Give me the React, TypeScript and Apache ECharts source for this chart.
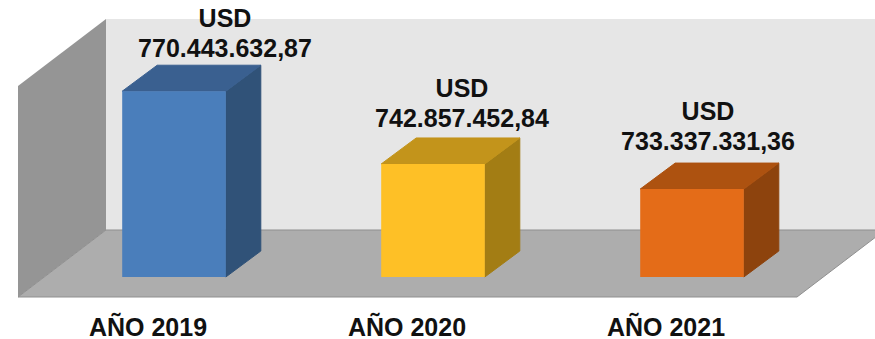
import React, { useEffect, useRef } from "react";
import * as echarts from "echarts";

const categories = ["AÑO 2019", "AÑO 2020", "AÑO 2021"];
const amounts = [770443632.87, 742857452.84, 733337331.36];
const frontColors = ["#4a7ebb", "#fec026", "#e46c18"];
const topColors = ["#3a6090", "#c3941b", "#ad5210"];
const sideColors = ["#305278", "#a37d14", "#8d430d"];

// Hand-placed value captions, relative to each bar's centre and front top edge.
const captionShiftX = [51, 29, 16];
const captionShiftY = [-58, -60.5, -63];

const AXIS_MIN = 700000000;
const AXIS_MAX = 780000000;
const DEPTH_X = 35;
const DEPTH_Y = 26;
const FONT = "bold 25px 'Liberation Sans', Arial, sans-serif";

const formatAmount = (v: number) =>
  v.toLocaleString("de-DE", { minimumFractionDigits: 2, maximumFractionDigits: 2 });

function renderBox(params: any, api: any) {
  const i = params.dataIndex;
  const value = api.value(1);
  const top = api.coord([i, value]);
  const base = api.coord([i, AXIS_MIN]);
  const w = api.size([1, 0])[0] * 0.4;
  const l = top[0] - w / 2;
  const r = top[0] + w / 2;
  const edge = { lineWidth: 1, lineJoin: "round" };
  return {
    type: "group",
    children: [
      {
        type: "polygon",
        shape: {
          points: [[r, top[1]], [r + DEPTH_X, top[1] - DEPTH_Y], [r + DEPTH_X, base[1] - DEPTH_Y], [r, base[1]]],
        },
        style: { fill: sideColors[i], stroke: sideColors[i], ...edge },
      },
      {
        type: "polygon",
        shape: {
          points: [[l, top[1]], [l + DEPTH_X, top[1] - DEPTH_Y], [r + DEPTH_X, top[1] - DEPTH_Y], [r, top[1]]],
        },
        style: { fill: topColors[i], stroke: topColors[i], ...edge },
      },
      {
        type: "rect",
        shape: { x: l, y: top[1], width: w, height: base[1] - top[1] },
        style: { fill: frontColors[i] },
      },
      {
        type: "text",
        x: top[0] + captionShiftX[i],
        y: top[1] + captionShiftY[i],
        style: {
          text: "USD\n" + formatAmount(value),
          font: FONT,
          fill: "#111111",
          align: "center",
          verticalAlign: "middle",
          lineHeight: 30,
        },
      },
    ],
  };
}

export default function App() {
  const ref = useRef<HTMLDivElement>(null);

  useEffect(() => {
    document.body.style.margin = "0";
    const chart = echarts.init(ref.current!, null, { renderer: "svg" });
    chart.setOption({
      animation: false,
      backgroundColor: "#ffffff",
      grid: { left: 44.5, right: 53.5, top: 66, bottom: 62 },
      xAxis: {
        type: "category",
        data: categories,
        axisLine: { show: false },
        axisTick: { show: false },
        axisLabel: {
          color: "#111111",
          fontFamily: "'Liberation Sans', Arial, sans-serif",
          fontWeight: "bold",
          fontSize: 25,
          margin: 37,
          padding: [0, 52, 0, 0],
        },
      },
      yAxis: { type: "value", min: AXIS_MIN, max: AXIS_MAX, show: false },
      // The room behind the boxes: back wall, left wall and floor.
      graphic: [
        {
          type: "rect",
          shape: { x: 106, y: 19, width: 769, height: 211 },
          style: { fill: "#e6e6e6" },
          silent: true,
        },
        {
          type: "polygon",
          shape: { points: [[18, 86], [106, 19], [106, 230], [18, 297]] },
          style: { fill: "#959595" },
          silent: true,
        },
        {
          type: "polygon",
          shape: { points: [[106, 230], [885, 230], [797, 297], [18, 297]] },
          style: { fill: "#adadad", stroke: "#8f8f8f", lineWidth: 1 },
          silent: true,
        },
      ],
      series: [
        {
          type: "custom",
          renderItem: renderBox,
          clip: false,
          data: amounts.map((v, i) => [i, v]),
          encode: { x: 0, y: 1 },
        },
      ],
    });
    return () => chart.dispose();
  }, []);

  return <div ref={ref} style={{ width: 875, height: 339 }} />;
}
